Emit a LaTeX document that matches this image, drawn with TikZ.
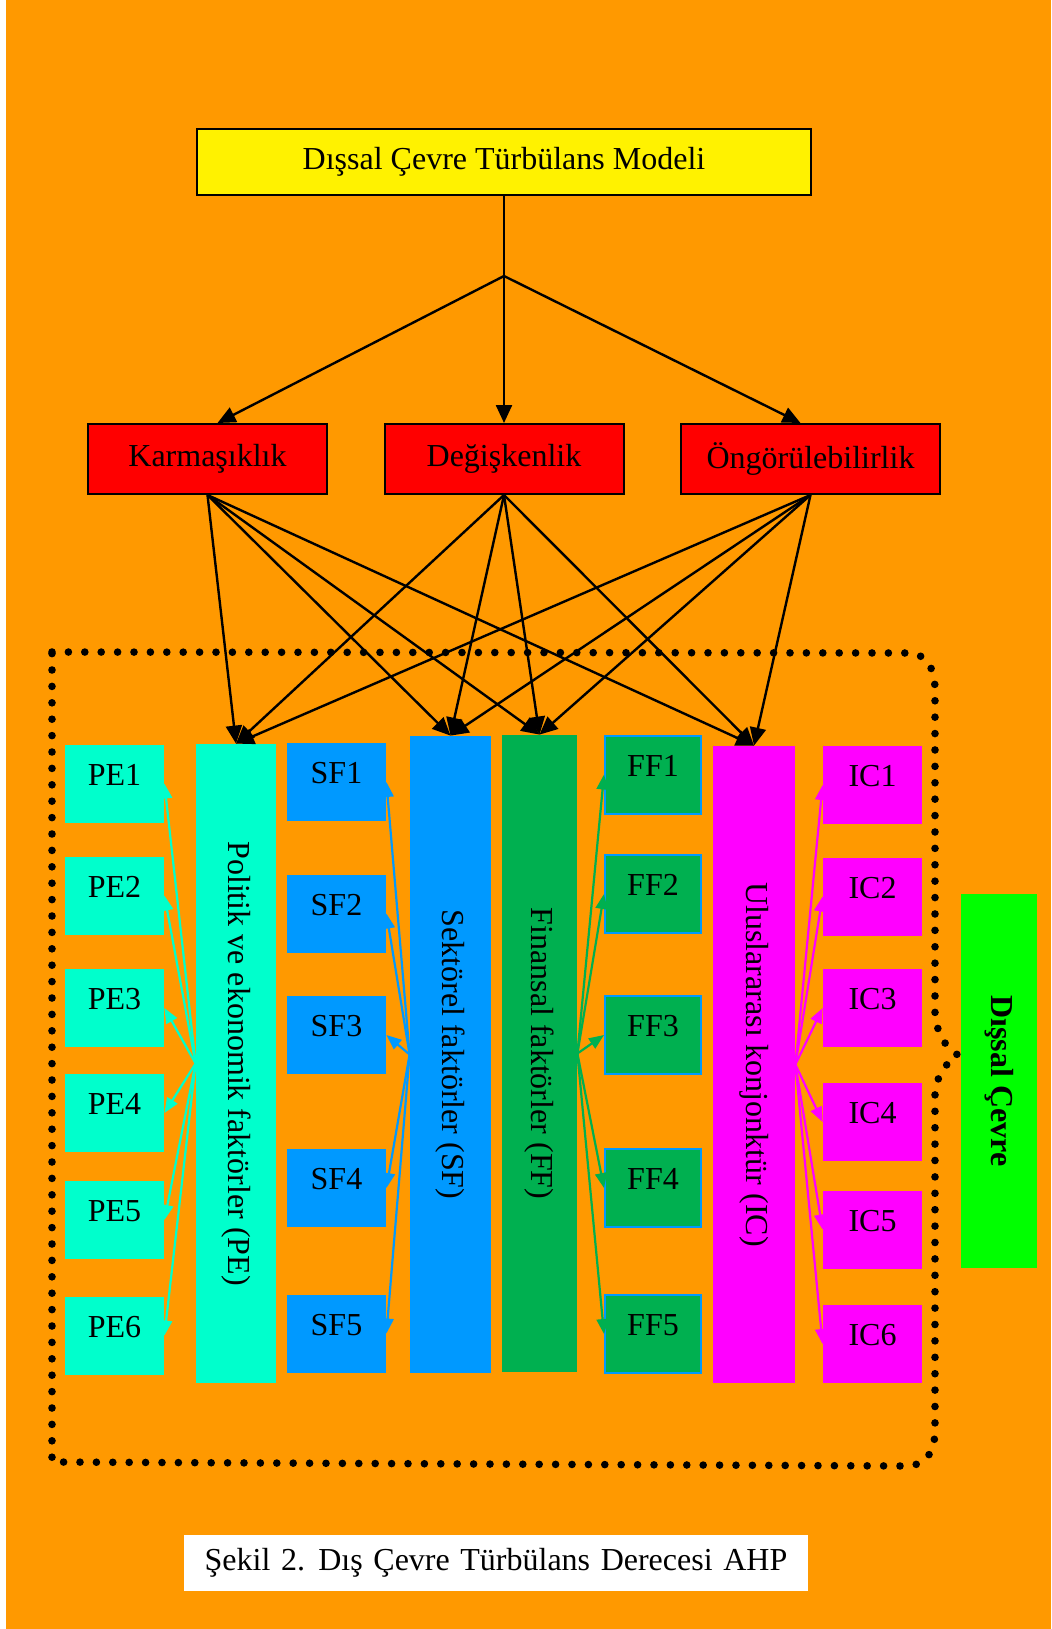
\documentclass[tikz,border=0pt]{standalone}
\usepackage{fontspec}
\setmainfont{Liberation Serif}
\usepackage{tikz}
\usetikzlibrary{arrows.meta}

\definecolor{bgorange}{HTML}{FF9900}
\definecolor{peC}{HTML}{00FFCC}
\definecolor{sfC}{HTML}{0099FF}
\definecolor{ffC}{HTML}{00B050}
\definecolor{icC}{HTML}{FF00FF}
\definecolor{envC}{HTML}{00FF00}

\begin{document}
\begin{tikzpicture}[x=0.5pt,y=-0.5pt,
    every node/.style={font=\fontsize{16}{19}\selectfont, inner sep=0pt},
    topbox/.style={draw=black, line width=1pt, minimum height=35pt},
    bar/.style={minimum height=318.5pt},
    smallbox/.style={minimum width=49.5pt, minimum height=39pt, text depth=9pt},
    blk/.style={line width=1.2pt, -{Triangle[length=9pt,width=8pt]}},
    fan/.style={line width=1.1pt, -{Triangle[length=7.5pt,width=6pt]}},
    dotline/.style={line width=3.8pt, line cap=round, dash pattern=on 0pt off 8.2pt}]
    % Background
    \fill[white] (0,0) rectangle (1051,1629);
    \fill[bgorange] (6,0) rectangle (1051,1629);

    % Model and criteria
    \node[topbox, fill=yellow, minimum width=307pt, minimum height=33pt] (model) at (504,162) {Dışsal Çevre Türbülans Modeli};
    \coordinate (split) at (504,276);
    \node[topbox, fill=red, minimum width=119.5pt] (kar) at (207.5,459) {Karmaşıklık};
    \node[topbox, fill=red, minimum width=119.5pt] (deg) at (504,459) {Değişkenlik};
    \node[topbox, fill=red, minimum width=129.5pt] (ong) at (810.5,459) {Öngörülebilirlik};

    % Factor bars
    \node[bar, fill=peC, minimum width=40pt, minimum height=319.5pt] (pe) at (236,1063.5) {};
    \node[rotate=-90] at (pe) {Politik ve ekonomik faktörler (PE)};
    \node[bar, fill=sfC, minimum width=40.5pt] (sf) at (450.5,1054.5) {};
    \node[rotate=-90] at (sf) {Sektörel faktörler (SF)};
    \node[bar, fill=ffC, minimum width=37.5pt] (ff) at (539.5,1053.5) {};
    \node[rotate=-90] at (ff) {Finansal faktörler (FF)};
    \node[bar, fill=icC, minimum width=41pt] (ic) at (754,1064.5) {};
    \node[rotate=-90] at (ic) {Uluslararası konjonktür (IC)};

    % Sub factors
    \foreach \n/\y in {1/783.5,2/895.5,3/1008,4/1113,5/1220,6/1335.5}
        \node[smallbox, fill=peC] (pe\n) at (114.5,\y) {PE\n};
    \foreach \n/\y in {1/782,2/913.5,3/1035,4/1188,5/1333.5}
        \node[smallbox, fill=sfC] (sf\n) at (336.5,\y) {SF\n};
    \foreach \n/\y in {1/774.5,2/894,3/1035,4/1188,5/1334}
        \node[smallbox, fill=ffC, draw=sfC, line width=1pt, minimum width=48pt] (ff\n) at (653,\y) {FF\n};
    \foreach \n/\y in {1/785,2/896.5,3/1008,4/1122,5/1229.5,6/1344}
        \node[smallbox, fill=icC] (ic\n) at (872.5,\y) {IC\n};

    \node[fill=envC, minimum width=38pt, minimum height=187pt] (env) at (999,1081) {};
    \node[rotate=-90, font=\fontsize{16}{19}\selectfont\bfseries] at (env) {Dışsal Çevre};

    % Arrows
    \draw[line width=1.2pt] (model.south) -- (split);
    \draw[blk] (split) -- ([xshift=5pt]kar.north);
    \draw[blk] (split) -- (deg.north);
    \draw[blk] (split) -- ([xshift=-5pt]ong.north);
    \foreach \s in {kar,deg,ong}
        \foreach \t in {pe,sf,ff,ic}
            \draw[blk] (\s.south) -- (\t.north);

    \foreach \n in {1,...,6} \draw[fan, peC] (pe.west) -- (pe\n.east);
    \foreach \n in {1,...,5} \draw[fan, sfC] (sf.west) -- (sf\n.east);
    \foreach \n in {1,...,5} \draw[fan, ffC] (ff.east) -- (ff\n.west);
    \foreach \n in {1,...,6} \draw[fan, icC] (ic.east) -- (ic\n.west);

    % Environment boundary
    \draw[dotline] (52,652) -- (908,653) .. controls (926,653) and (935,668) .. (935,690)
        -- (935,1015) .. controls (937,1035) and (948,1050) .. (958,1055)
        .. controls (947,1062) and (936,1075) .. (935,1095)
        -- (935,1430) .. controls (935,1452) and (926,1466) .. (905,1466)
        -- (52,1462) -- cycle;

    % Caption
    \node[fill=white, minimum width=312pt, minimum height=28pt] (caption) at (496,1563) {\spaceskip=5.3pt Şekil 2. Dış Çevre Türbülans Derecesi AHP};
\end{tikzpicture}
\end{document}
